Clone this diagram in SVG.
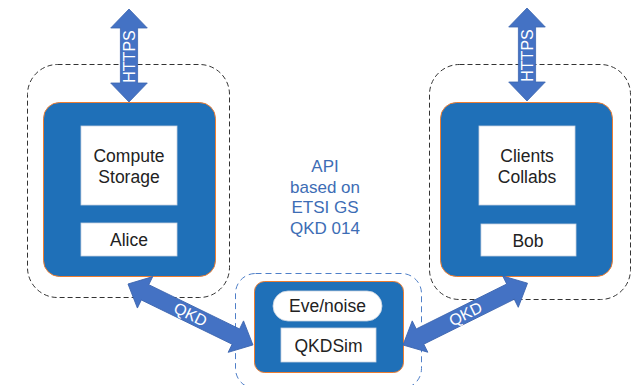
<svg xmlns="http://www.w3.org/2000/svg" width="641" height="385" viewBox="0 0 641 385">
  <defs>
    <style>
      .zone { fill: none; stroke: #333333; stroke-width: 1; stroke-dasharray: 5 3; }
      .zone-sim { fill: none; stroke: #4F7FC8; stroke-width: 1; stroke-dasharray: 6 4; }
      .host { fill: #1F70B8; stroke: #ED7D31; stroke-width: 1; }
      .panel { fill: #FFFFFF; stroke: #C9D3E0; stroke-width: 0.8; }
      .label { font-family: "Liberation Sans", Arial, sans-serif; font-size: 17.5px; fill: #222222; text-anchor: middle; }
      .api { font-family: "Liberation Sans", Arial, sans-serif; font-size: 17px; fill: #3D6DB5; text-anchor: middle; }
      .link { fill: #4472C4; stroke: #3B64AE; stroke-width: 0.8; stroke-linejoin: miter; }
      .link-text { font-family: "Liberation Sans", Arial, sans-serif; font-size: 16px; fill: #FFFFFF; text-anchor: middle; }
    </style>
    <!-- double-headed block arrow along +x, length 139 -->
    <polygon id="dbl-h" points="0,0 19,-17.5 19,-8.5 120,-8.5 120,-17.5 139,0 120,17.5 120,8.5 19,8.5 19,17.5"/>
    <!-- vertical double-headed block arrow, length 93 -->
    <polygon id="dbl-v" points="0,0 18.3,19 8.6,19 8.6,74 18.3,74 0,93 -18.3,74 -8.6,74 -8.6,19 -18.3,19"/>
  </defs>

  <!-- Alice site -->
  <g id="alice-site">
    <rect class="zone" x="27.5" y="64.5" width="202" height="233" rx="30"/>
    <rect class="host" x="43.5" y="102.5" width="172" height="174" rx="16"/>
    <rect class="panel" x="81" y="126" width="96" height="79"/>
    <text class="label" x="129" y="162">Compute</text>
    <text class="label" x="129" y="183">Storage</text>
    <rect class="panel" x="81" y="223" width="96" height="33"/>
    <text class="label" x="129" y="246">Alice</text>
  </g>

  <!-- Bob site -->
  <g id="bob-site">
    <rect class="zone" x="429.5" y="64.5" width="201" height="235" rx="30"/>
    <rect class="host" x="440.5" y="102.5" width="172" height="174" rx="16"/>
    <rect class="panel" x="479" y="126" width="96" height="79"/>
    <text class="label" x="527" y="162">Clients</text>
    <text class="label" x="527" y="183">Collabs</text>
    <rect class="panel" x="481" y="224" width="95" height="32"/>
    <text class="label" x="528" y="247">Bob</text>
  </g>

  <!-- QKD simulator -->
  <g id="qkd-sim">
    <rect class="zone-sim" x="235.5" y="273.5" width="186" height="115" rx="20"/>
    <rect class="host" x="254.5" y="281.5" width="149" height="91" rx="10"/>
    <rect class="panel" x="273" y="291" width="109" height="30" rx="15"/>
    <text class="label" x="327.5" y="312">Eve/noise</text>
    <rect class="panel" x="281" y="328" width="95" height="34"/>
    <text class="label" x="328.5" y="352">QKDSim</text>
  </g>

  <!-- API note -->
  <g id="api-note">
    <text class="api" x="325" y="172">API</text>
    <text class="api" x="325" y="193">based on</text>
    <text class="api" x="325" y="213">ETSI GS</text>
    <text class="api" x="325" y="234">QKD 014</text>
  </g>

  <!-- connectors -->
  <g id="connectors">
    <g id="https-alice">
      <use href="#dbl-v" class="link" x="129" y="9"/>
      <text class="link-text" transform="translate(135,56.5) rotate(-90)">HTTPS</text>
    </g>
    <g id="https-bob">
      <use href="#dbl-v" class="link" x="527" y="8"/>
      <text class="link-text" transform="translate(533,55.5) rotate(-90)">HTTPS</text>
    </g>
    <g id="qkd-alice">
      <use href="#dbl-h" class="link" transform="translate(128,284) rotate(26)"/>
      <text class="link-text" transform="translate(190.5,314.5) rotate(26) translate(0,5.5)">QKD</text>
    </g>
    <g id="qkd-bob">
      <use href="#dbl-h" class="link" transform="translate(403,345) rotate(-26.4)"/>
      <text class="link-text" transform="translate(465.5,314) rotate(-26.4) translate(0,5.5)">QKD</text>
    </g>
  </g>
</svg>
